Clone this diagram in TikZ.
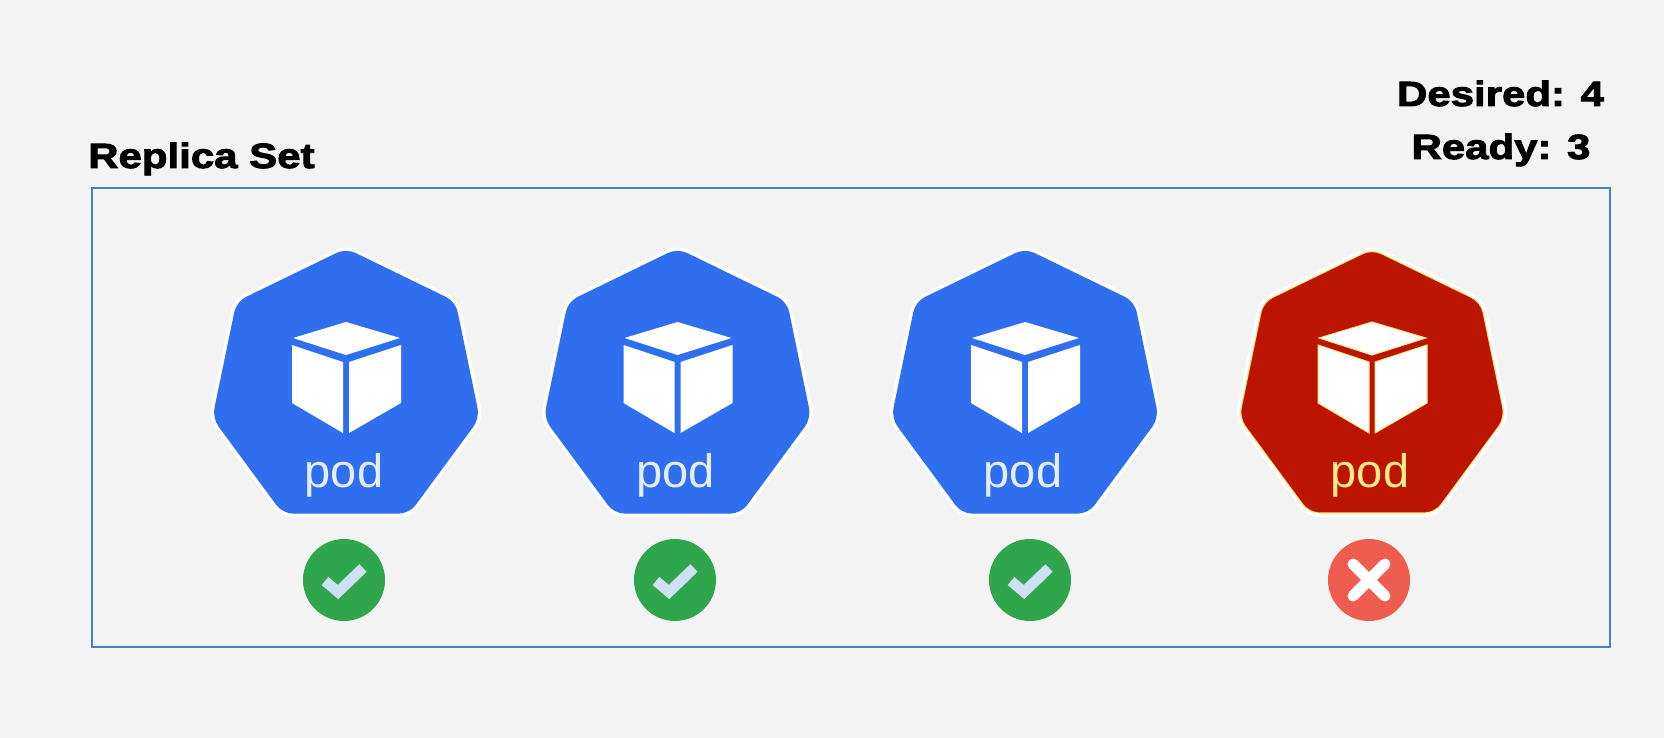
\documentclass[tikz,border=0pt]{standalone}
\usepackage{fontspec}
\setmainfont{Liberation Sans}
\newfontfamily\headfont[BoldFeatures={FakeBold=2.6,FakeStretch=1.2}]{Liberation Sans}
\definecolor{bgc}{HTML}{F3F3F3}
\definecolor{framec}{HTML}{4F7CBA}
\definecolor{podblue}{HTML}{2F6EEE}
\definecolor{podred}{HTML}{BB1400}
\definecolor{okgreen}{HTML}{2FA64C}
\definecolor{okcheck}{HTML}{CFE0F5}
\definecolor{badred}{HTML}{EE5B4F}
\definecolor{fringe}{HTML}{FFE98A}
\definecolor{podtextc}{HTML}{E3EDFB}
\tikzset{
  x=1pt,y=-1pt,
  heading/.style={font=\headfont\bfseries\fontsize{35}{35}\selectfont,text=black,inner sep=0pt,anchor=base west},
  podlabel/.style={font=\fontsize{47}{47}\selectfont,inner sep=0pt,anchor=base},
  statusdot/.style={circle,minimum size=82pt,inner sep=0pt},
  pics/podicon/.style n args={4}{code={
    \path[fill=white,draw=white,line width=8pt,rounded corners=10pt,line join=round]
      (0,249)--(109,302)--(133,418)--(63,513)--(-63,513)--(-133,418)--(-109,302)--cycle;
    \path[fill=#1,draw=#2,line width=1.2pt,rounded corners=10pt]
      (0,249)--(109,302)--(133,418)--(63,513)--(-63,513)--(-133,418)--(-109,302)--cycle;
    \path[fill=white,draw=#4,line width=1pt]
      (0,322)--(54,338)--(0,355)--(-53,338)--cycle
      (-54,345)--(-3,362)--(-3,433)--(-54,403)--cycle
      (3,362)--(55,345)--(55,403)--(3,433)--cycle;
    \node[podlabel,text=#3] at (-2,487) {pod};
  }},
}
\begin{document}
\begin{tikzpicture}
\useasboundingbox (0,0) rectangle (1664,738);
\fill[bgc] (0,0) rectangle (1664,738);
\node[draw=framec,line width=2.4pt,inner sep=0pt,minimum width=1518pt,minimum height=459pt,anchor=north west] (frame) at (91,187) {};
\node[heading] (title) at (88,168) {Replica Set};
\node[heading,anchor=base] (desired) at (1500.5,106) {Desired: 4};
\node[heading,anchor=base] (ready) at (1501,159) {Ready: 3};
\pic at (346,0) {podicon={podblue}{podblue}{podtextc}{none}};
\pic at (677.5,0) {podicon={podblue}{podblue}{podtextc}{none}};
\pic at (1025,0) {podicon={podblue}{podblue}{podtextc}{none}};
\pic at (1372,0) {podicon={podred}{fringe}{fringe}{fringe}};
\node[statusdot,fill=okgreen] (s1) at (344,580) {};
\node[statusdot,fill=okgreen] (s2) at (675,580) {};
\node[statusdot,fill=okgreen] (s3) at (1030,580) {};
\node[statusdot,fill=badred] (s4) at (1369,580) {};
\foreach \n in {s1,s2,s3}
  \draw[okcheck,line width=10.5pt,line join=miter] ([shift={(-19,1)}]\n.center) -- ([shift={(-6,12)}]\n.center) -- ([shift={(19,-12)}]\n.center);
\draw[white,line width=11pt,line cap=round] ([shift={(-16,-16)}]s4.center) -- ([shift={(16,16)}]s4.center);
\draw[white,line width=11pt,line cap=round] ([shift={(-16,16)}]s4.center) -- ([shift={(16,-16)}]s4.center);
\end{tikzpicture}
\end{document}
